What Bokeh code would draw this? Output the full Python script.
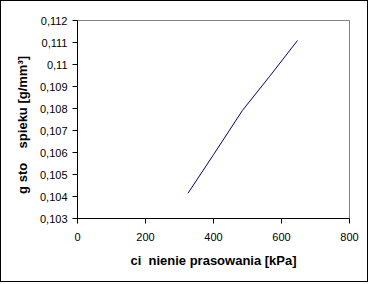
from bokeh.plotting import figure
from bokeh.models import FixedTicker, Range1d
from bokeh.embed import file_html
from bokeh.resources import INLINE

# data
pressure_kpa = [325, 400, 485, 565, 647]
density = [0.10415, 0.10590, 0.10791, 0.10946, 0.11109]

x_ticks = [0, 200, 400, 600, 800]
y_ticks = [0.103, 0.104, 0.105, 0.106, 0.107, 0.108, 0.109, 0.110, 0.111, 0.112]
y_tick_labels = ["0,103", "0,104", "0,105", "0,106", "0,107", "0,108", "0,109", "0,11", "0,111", "0,112"]

NB = "\u00a0"
x_label = "ci" + NB * 2 + "nienie prasowania [kPa]"
y_label = "g" + NB + "sto" + NB * 4 + "spieku [g/mm\u00b3]" + NB * 3

FONT = "Liberation Sans"

p = figure(width=368, height=282, output_backend="svg", toolbar_location=None,
           x_range=Range1d(0, 800), y_range=Range1d(0.103, 0.112),
           min_border_left=76, min_border_right=20, min_border_top=19, min_border_bottom=65)
p.styles = {"border": "1px solid black"}

p.line(pressure_kpa, density, line_color="#000080", line_width=1)

p.xgrid.visible = False
p.ygrid.visible = False
p.outline_line_color = "#808080"
p.outline_line_width = 1
p.background_fill_color = "white"
p.border_fill_color = "white"

for ax in (p.xaxis[0], p.yaxis[0]):
    ax.axis_line_color = "black"
    ax.major_tick_line_color = "black"
    ax.minor_tick_line_color = None
    ax.major_tick_in = 0
    ax.major_tick_out = 5
    ax.major_label_text_font = FONT
    ax.major_label_text_font_size = "11px"
    ax.major_label_text_color = "black"
    ax.axis_label_text_font = FONT
    ax.axis_label_text_font_size = "13px"
    ax.axis_label_text_font_style = "bold"
    ax.axis_label_text_color = "black"

p.xaxis.ticker = FixedTicker(ticks=x_ticks)
p.xaxis.major_label_standoff = 9
p.xaxis.axis_label = x_label
p.xaxis.axis_label_standoff = 9

p.yaxis.ticker = FixedTicker(ticks=y_ticks)
p.yaxis.major_label_overrides = {t: l for t, l in zip(y_ticks, y_tick_labels)}
p.yaxis.major_label_standoff = 5
p.yaxis.axis_label = y_label
p.yaxis.axis_label_standoff = 7

open("out.html", "w").write(file_html(p, INLINE))
